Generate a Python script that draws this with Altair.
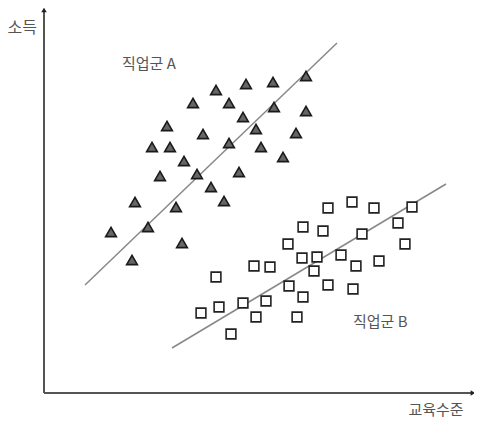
import altair as alt
import pandas as pd

# Group A (triangles): education level, income
a_x = [262, 229, 202, 172, 149, 185, 230, 262, 199, 123, 212, 159, 252, 185, 108,
       126, 217, 239, 140, 153, 195, 116, 167, 91, 180, 132, 67, 104, 138, 88]
a_y = [317, 311, 309, 303, 290, 290, 286, 282, 276, 267, 264, 259, 260, 250, 246,
       246, 246, 236, 232, 219, 221, 217, 206, 191, 192, 186, 161, 166, 150, 133]

# Group B (squares)
b_x = [284, 308, 330, 368, 259, 279, 318, 354, 244, 361, 258, 273, 297, 210, 226,
       312, 335, 270, 172, 245, 284, 309, 259, 222, 199, 175, 157, 212, 253, 187]
b_y = [185, 191, 185, 186, 166, 162, 159, 170, 149, 149, 135, 136, 138, 127, 126,
       127, 132, 122, 116, 107, 108, 104, 96, 92, 90, 86, 80, 76, 76, 59]

# Trend lines (endpoints)
lineA_x = [41, 293]
lineA_y = [108, 350]
lineB_x = [128, 402]
lineB_y = [45, 209]

labels = ["직업군 A", "직업군 B"]
label_x = [78, 309]
label_y = [329, 71]

x_label = "교육수준"
y_label = "소득"

X = alt.Scale(domain=[-36, 430], nice=False, zero=False)
Y = alt.Scale(domain=[-27, 385], nice=False, zero=False)
FONT = "Noto Sans CJK KR"

dfa = pd.DataFrame({"x": a_x, "y": a_y})
dfb = pd.DataFrame({"x": b_x, "y": b_y})
dla = pd.DataFrame({"x": lineA_x, "y": lineA_y})
dlb = pd.DataFrame({"x": lineB_x, "y": lineB_y})
dlab = pd.DataFrame({"t": labels, "x": label_x, "y": label_y})

axes_df = pd.DataFrame({"x": [0, 0], "y": [0, 0], "x2": [0, 429], "y2": [383, 0]})
arrows_df = pd.DataFrame({"x": [0, 429], "y": [383, 0], "s": ["triangle-up", "triangle-right"]})

axes = alt.Chart(axes_df).mark_rule(color="#555", strokeWidth=2).encode(
    x=alt.X("x:Q", scale=X, axis=None), y=alt.Y("y:Q", scale=Y, axis=None),
    x2="x2:Q", y2="y2:Q")
arrows = alt.Chart(arrows_df).mark_point(filled=True, color="#222", size=30, opacity=1).encode(
    x=alt.X("x:Q", scale=X, axis=None), y=alt.Y("y:Q", scale=Y, axis=None),
    shape=alt.Shape("s:N", scale=None))

la = alt.Chart(dla).mark_line(color="#888", strokeWidth=1.5).encode(
    x=alt.X("x:Q", scale=X, axis=None), y=alt.Y("y:Q", scale=Y, axis=None))
lb = alt.Chart(dlb).mark_line(color="#888", strokeWidth=1.5).encode(
    x=alt.X("x:Q", scale=X, axis=None), y=alt.Y("y:Q", scale=Y, axis=None))

pa = alt.Chart(dfa).mark_point(shape="triangle-up", size=115, filled=True, fill="#666",
                               stroke="#1a1a1a", strokeWidth=1.6, opacity=1).encode(
    x=alt.X("x:Q", scale=X, axis=None), y=alt.Y("y:Q", scale=Y, axis=None))
pb = alt.Chart(dfb).mark_point(shape="square", size=95, filled=False, fill="white",
                               stroke="#222", strokeWidth=1.6, opacity=1).encode(
    x=alt.X("x:Q", scale=X, axis=None), y=alt.Y("y:Q", scale=Y, axis=None))

txt = alt.Chart(dlab).mark_text(align="left", baseline="middle", font=FONT, fontSize=15,
                                color="#555").encode(
    x=alt.X("x:Q", scale=X, axis=None), y=alt.Y("y:Q", scale=Y, axis=None), text="t:N")

ylab = alt.Chart(pd.DataFrame({"t": [y_label], "x": [-7], "y": [365]})).mark_text(
    align="right", baseline="middle", font=FONT, fontSize=16, color="#555").encode(
    x=alt.X("x:Q", scale=X, axis=None), y=alt.Y("y:Q", scale=Y, axis=None), text="t:N")
xlab = alt.Chart(pd.DataFrame({"t": [x_label], "x": [392], "y": [-17]})).mark_text(
    align="center", baseline="middle", font=FONT, fontSize=15, color="#555").encode(
    x=alt.X("x:Q", scale=X, axis=None), y=alt.Y("y:Q", scale=Y, axis=None), text="t:N")

chart = alt.layer(axes, arrows, la, lb, pa, pb, txt, ylab, xlab).properties(
    width=466, height=412, padding=0, autosize=alt.AutoSizeParams(type="none"),
    background="white"
).configure_view(stroke=None)

chart.save("out.html", embed_options={"renderer": "svg", "actions": False})
